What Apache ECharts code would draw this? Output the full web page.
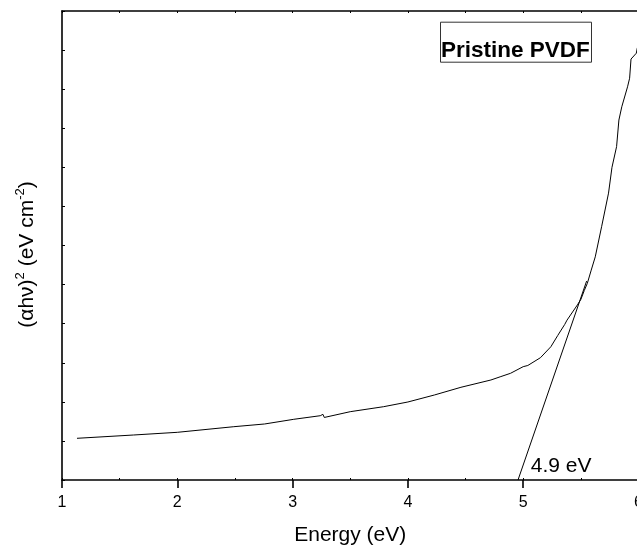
<!DOCTYPE html>
<html>
<head>
<meta charset="utf-8">
<script src="https://cdn.jsdelivr.net/npm/echarts@6/dist/echarts.min.js"></script>
<style>
html,body{margin:0;padding:0;background:#fff;}
#chart{width:637px;height:548px;}
</style>
</head>
<body>
<div id="chart"></div>
<script>
// Data (y in arbitrary units, 0..12)
const energy = [1.13, 1.62, 2.00, 2.49, 2.757, 3.01, 3.24, 3.263, 3.275, 3.50, 3.79, 4.00, 4.23, 4.46, 4.72, 4.80, 4.89, 5.00, 5.04, 5.15, 5.24, 5.30, 5.36, 5.38, 5.47, 5.50, 5.53, 5.556, 5.59, 5.625, 5.68, 5.74, 5.77, 5.81, 5.83, 5.855, 5.905, 5.923, 5.935, 5.952, 5.981, 5.99];
const absorb = [1.067, 1.151, 1.22, 1.364, 1.433, 1.553, 1.645, 1.68, 1.60, 1.748, 1.876, 1.996, 2.175, 2.372, 2.559, 2.64, 2.73, 2.90, 2.93, 3.13, 3.41, 3.70, 3.98, 4.09, 4.48, 4.62, 4.85, 5.03, 5.37, 5.71, 6.48, 7.34, 8.0, 8.53, 9.21, 9.55, 10.06, 10.28, 10.77, 10.82, 10.92, 11.06];
const tangentX = [4.955, 5.55];
const tangentY = [0, 5.09];
const xTicks = [1, 2, 3, 4, 5, 6];
const gapLabel = '4.9 eV';
const sampleName = 'Pristine PVDF';

const FONT = 'Liberation Sans, Arial, sans-serif';
const curve = energy.map((x, i) => [x, absorb[i]]);
const tangent = tangentX.map((x, i) => [x, tangentY[i]]);

const chart = echarts.init(document.getElementById('chart'), null, {renderer: 'canvas'});
const hiddenLabel = {show: false};
chart.setOption({
  animation: false,
  backgroundColor: '#fff',
  title: {
    text: sampleName,
    left: 440, top: 22.7,
    padding: [17, 2, 0, 1],
    borderWidth: 1, borderColor: '#333',
    textStyle: {fontFamily: FONT, fontSize: 22.5, fontWeight: 'bold', color: '#000', lineHeight: 22}
  },
  grid: {left: 62, top: 11, width: 576.5, height: 469, containLabel: false, outerBoundsMode: 'none'},
  xAxis: [
    {
      type: 'value', position: 'bottom', min: xTicks[0], max: xTicks[xTicks.length - 1], interval: 1,
      name: 'Energy (eV)', nameLocation: 'middle', nameGap: 45,
      nameTextStyle: {fontFamily: FONT, fontSize: 21, color: '#000'},
      axisLine: {show: true, lineStyle: {color: '#000', width: 1.6}},
      axisTick: {show: true, inside: false, length: 8, lineStyle: {color: '#000', width: 1.6}},
      axisLabel: {show: true, margin: 15, fontFamily: FONT, fontSize: 16, color: '#000',
        showMinLabel: true, showMaxLabel: true},
      splitLine: {show: false}
    },
    {
      type: 'value', position: 'bottom', min: 1, max: 6, interval: 0.5, gridIndex: 0,
      axisLine: {show: false},
      axisTick: {show: true, inside: true, length: 2, lineStyle: {color: '#000', width: 1}},
      axisLabel: hiddenLabel, splitLine: {show: false}
    },
    {
      type: 'value', position: 'top', min: 1, max: 6, interval: 0.5, gridIndex: 0,
      axisLine: {show: true, lineStyle: {color: '#000', width: 1.6}},
      axisTick: {show: true, inside: true, length: 2, lineStyle: {color: '#000', width: 1}},
      axisLabel: hiddenLabel, splitLine: {show: false}
    }
  ],
  yAxis: [
    {
      type: 'value', min: 0, max: 12, interval: 1, position: 'left',
      axisLine: {show: true, onZero: false, lineStyle: {color: '#000', width: 1.6}},
      axisTick: {show: true, inside: true, length: 3, lineStyle: {color: '#000', width: 1}},
      axisLabel: hiddenLabel, splitLine: {show: false}
    }
  ],
  series: [
    {
      type: 'line', data: curve, xAxisIndex: 0, yAxisIndex: 0,
      showSymbol: false, symbol: 'none', smooth: false,
      lineStyle: {color: '#000', width: 1}, clip: true, z: 3
    },
    {
      type: 'line', data: tangent, xAxisIndex: 0, yAxisIndex: 0,
      showSymbol: false, symbol: 'none',
      lineStyle: {color: '#000', width: 1}, z: 3
    }
  ]
});

const p0 = chart.convertToPixel({xAxisIndex: 0, yAxisIndex: 0}, tangent[0]);
chart.setOption({
  graphic: [
    {
      type: 'text', x: 27, y: 254.5, rotation: Math.PI / 2,
      style: {
        text: '{m|(αhν)}{s|2}{m| (eV cm}{s|-2}{m|)}',
        align: 'center', verticalAlign: 'middle', fill: '#000',
        rich: {
          m: {fontFamily: FONT, fontSize: 21, fill: '#000', lineHeight: 26, verticalAlign: 'middle'},
          s: {fontFamily: FONT, fontSize: 13, fill: '#000', lineHeight: 26, verticalAlign: 'top'}
        }
      }
    },
    {
      type: 'text', x: p0[0] + 12.7, y: p0[1] - 13.5,
      style: {text: gapLabel, fontFamily: FONT, fontSize: 21, fill: '#000', align: 'left', verticalAlign: 'middle'}
    }
  ]
});
</script>
</body>
</html>
